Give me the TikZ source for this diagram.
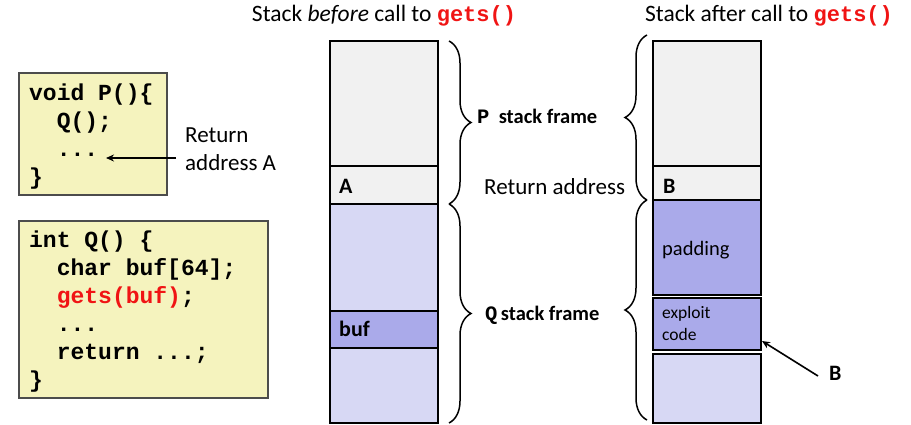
\documentclass[tikz,border=0pt]{standalone}
\usepackage{fontspec}
\setmainfont{Carlito}
\newfontfamily\codefont{Liberation Mono}
\usetikzlibrary{decorations.pathreplacing,arrows.meta}
\definecolor{codebg}{RGB}{245,243,190}
\definecolor{cellgray}{RGB}{241,241,241}
\definecolor{celllight}{RGB}{215,216,244}
\definecolor{celldark}{RGB}{170,170,234}
\definecolor{codered}{RGB}{240,20,20}
\tikzset{
  codebox/.style={draw=black!70, line width=1.2pt, fill=codebg},
  cell/.style={draw=black, line width=1.8pt},
  codetext/.style={anchor=north west, align=left, inner sep=0pt,
    font=\codefont\bfseries\fontsize{23}{28}\selectfont},
  title/.style={font=\fontsize{23.5}{28}\selectfont, inner sep=0pt},
  lbl/.style={font=\fontsize{23}{28}\selectfont, inner sep=0pt, anchor=west},
  celllbl/.style={font=\bfseries\fontsize{22}{26}\selectfont, inner sep=0pt, anchor=west},
  framelbl/.style={font=\bfseries\fontsize{20.5}{24}\selectfont, inner sep=0pt, anchor=west},
  bracestyle/.style={decorate, line width=1.5pt},
  arr/.style={-{Stealth[length=8pt,width=7pt]}, line width=1.6pt}
}
\newcommand{\cgets}{{\color{codered}\codefont\bfseries\fontsize{22}{26}\selectfont gets()}}
\begin{document}
\begin{tikzpicture}[x=1pt,y=-1pt]
\useasboundingbox (0,0) rectangle (911,425);

% titles
\node[title] (t1) at (384,16) {Stack \textit{before} call to \cgets};
\node[title] (t2) at (769,16) {Stack after call to \cgets};

% code of P
\draw[codebox] (19,73) rectangle (167,195);
\node[codetext] (pcode) at (29,84) {void P()\{\\
\ \ Q();\\
\ \ ...\\
\}};
\node[lbl, align=left, anchor=north west] (retA) at (185,128) {Return\\address A};
\coordinate (dots) at (106,158);
\coordinate (retAtail) at (176,158);
\draw[arr] (retAtail) -- (dots);

% code of Q
\draw[codebox] (19,221) rectangle (268,398);
\node[codetext] (qcode) at (29,231) {int Q() \{\\
\ \ char buf[64];\\
\ \ {\color{codered}gets(buf)};\\
\ \ ...\\
\ \ return ...;\\
\}};

% stack before
\draw[cell, fill=cellgray] (330,41) rectangle (438,166);
\draw[cell, fill=cellgray] (330,166) rectangle (438,204);
\draw[cell, fill=celllight] (330,204) rectangle (438,311);
\draw[cell, fill=celldark] (330,311) rectangle (438,348);
\draw[cell, fill=celllight] (330,348) rectangle (438,423);
\node[celllbl] (A) at (339,186) {A};
\node[celllbl] (buf) at (339,329) {buf};

% braces of the before stack
\draw[bracestyle, decoration={brace, amplitude=22pt}] (449,41) -- (449,204);
\draw[bracestyle, decoration={brace, amplitude=22pt}] (449,204) -- (449,423);
\node[framelbl] (pframe) at (477,116) {{\codefont\bfseries P}\ \ stack frame};
\node[lbl] (ret) at (484,187) {Return address};
\node[framelbl] (qframe) at (485,315) {{\codefont\bfseries Q}\,stack frame};

% stack after
\draw[cell, fill=cellgray] (653,41) rectangle (761,166);
\draw[cell, fill=cellgray] (653,166) rectangle (761,200);
\draw[cell, fill=celldark] (653,200) rectangle (761,295);
\draw[cell, fill=celldark] (653,298) rectangle (761,350);
\draw[cell, fill=celllight] (653,354) rectangle (761,423);
\node[celllbl] (B) at (663,186) {B};
\node[lbl, font=\fontsize{20.5}{24}\selectfont] (pad) at (662,250) {padding};
\node[lbl, align=left, anchor=north west, font=\fontsize{17.5}{22}\selectfont] (expl) at (662,306) {exploit\\code};

% braces of the after stack
\draw[bracestyle, decoration={brace, amplitude=22pt}] (647,200) -- (647,35);
\draw[bracestyle, decoration={brace, amplitude=22pt}] (647,420) -- (647,200);

% pointer to exploit code
\node[celllbl] (Bptr) at (829,373) {B};
\coordinate (exhead) at (762,341);
\coordinate (extail) at (818,376);
\draw[arr] (extail) -- (exhead);
\end{tikzpicture}
\end{document}
